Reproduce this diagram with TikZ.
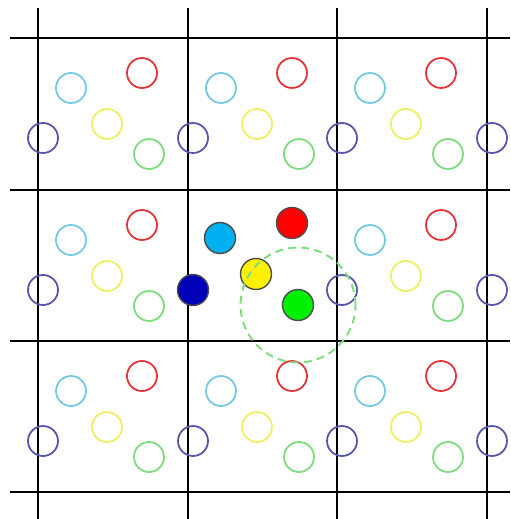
\documentclass[tikz,border=0pt]{standalone}
\usetikzlibrary{positioning}
\definecolor{ringcyan}{RGB}{115,200,228}
\definecolor{ringred}{RGB}{228,50,55}
\definecolor{ringyellow}{RGB}{240,238,95}
\definecolor{ringblue}{RGB}{85,85,175}
\definecolor{ringgreen}{RGB}{125,220,125}
\definecolor{ballcyan}{RGB}{0,176,240}
\definecolor{ballblue}{RGB}{0,0,185}
\definecolor{ballgreen}{RGB}{0,240,0}

\begin{document}
\begin{tikzpicture}[x=0.02cm, y=-0.02cm,
  ring/.style={circle, draw, line width=1pt, minimum size=0.6cm, inner sep=0pt},
  ball/.style={circle, draw=black!70, line width=0.8pt, minimum size=0.62cm, inner sep=0pt},
  gridline/.style={line width=1.6pt}]
  \useasboundingbox (0,0) rectangle (510,519);

  % lattice
  \foreach \gx in {38,188,337,487}
    \draw[gridline] (\gx,8) -- (\gx,519);
  \foreach \gy in {38,190,341,492}
    \draw[gridline] (10,\gy) -- (510,\gy);

  % periodic images
  \foreach \ox/\oy/\n in {38/38/a, 188/38/b, 337/38/c, 38/190/d, 337/190/f, 38/341/g, 188/341/h, 337/341/k} {
    \node[ring, draw=ringcyan] (\n-cyan) at ({\ox+33},{\oy+50}) {};
    \node[ring, draw=ringred] (\n-red) at ({\ox+104},{\oy+35}) {};
    \node[ring, draw=ringyellow] (\n-yellow) at ({\ox+69},{\oy+86}) {};
    \node[ring, draw=ringblue] (\n-blue) at ({\ox+5},{\oy+100}) {};
    \node[ring, draw=ringgreen] (\n-green) at ({\ox+111},{\oy+116}) {};
  }
  \foreach \oy/\n in {38/c, 190/f, 341/k}
    \node[ring, draw=ringblue] (\n-blue2) at (492,{\oy+100}) {};

  % central cell
  \node[ball, fill=ballcyan] (e-cyan) at (220,238) {};
  \node[ball, fill=red] (e-red) at (292,223) {};
  \node[ball, fill=ballblue] (e-blue) at (193,290) {};
  \node[ball, fill=yellow] (e-yellow) at (256,274) {};
  \node[ball, fill=ballgreen] (e-green) at (298,305) {};
  \node[circle, draw=ringgreen, dash pattern=on 4.5pt off 3pt, line width=1.1pt,
        minimum size=2.3cm, inner sep=0pt] (cutoff) at (e-green) {};
\end{tikzpicture}
\end{document}
